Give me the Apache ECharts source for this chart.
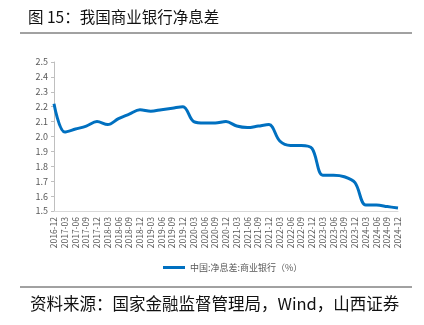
<!DOCTYPE html>
<html>
<head>
<meta charset="utf-8">
<script src="https://cdn.jsdelivr.net/npm/echarts@6/dist/echarts.min.js"></script>
<style>
  html, body { margin: 0; padding: 0; background: #fff; }
  #chart { width: 424px; height: 325px; }
</style>
</head>
<body>
<div id="chart"></div>
<script>
// Quarterly net interest margin of commercial banks, %
const quarters = [
  '2016-12','2017-03','2017-06','2017-09','2017-12','2018-03','2018-06','2018-09','2018-12',
  '2019-03','2019-06','2019-09','2019-12','2020-03','2020-06','2020-09','2020-12',
  '2021-03','2021-06','2021-09','2021-12','2022-03','2022-06','2022-09','2022-12',
  '2023-03','2023-06','2023-09','2023-12','2024-03','2024-06','2024-09','2024-12'
];
const nim = [
  2.22, 2.03, 2.05, 2.07, 2.10, 2.08, 2.12, 2.15, 2.18,
  2.17, 2.18, 2.19, 2.20, 2.10, 2.09, 2.09, 2.10,
  2.07, 2.06, 2.07, 2.08, 1.97, 1.94, 1.94, 1.92,
  1.74, 1.74, 1.73, 1.69, 1.54, 1.54, 1.53, 1.52
];
const yTicks = { min: 1.5, max: 2.5, step: 0.1 };
const seriesName = '中国:净息差:商业银行（%）';
const titleText = '图 15：我国商业银行净息差';
const sourceText = '资料来源：国家金融监督管理局，Wind，山西证券';

const chart = echarts.init(document.getElementById('chart'));
const cjk = '"Noto Sans CJK SC", "Noto Sans", sans-serif';

chart.setOption({
  backgroundColor: '#fff',
  animation: false,
  textStyle: { fontFamily: cjk },
  graphic: [
    { type: 'text', left: 28, top: 9, style: { text: titleText, font: '15.5px ' + cjk, fill: '#111' } },
    { type: 'line', shape: { x1: 20, y1: 33, x2: 412, y2: 33 }, style: { stroke: '#444', lineWidth: 1 } },
    { type: 'line', shape: { x1: 20, y1: 287, x2: 412, y2: 287 }, style: { stroke: '#444', lineWidth: 1 } },
    { type: 'text', left: 30, top: 295, style: { text: sourceText, font: '16.5px ' + cjk, fill: '#111' } }
  ],
  grid: { left: 54, right: 26, top: 62, bottom: 114 },
  legend: {
    data: [seriesName],
    left: 158, top: 258,
    itemWidth: 22, itemHeight: 3, itemGap: 4,
    icon: 'rect',
    textStyle: { fontSize: 9, color: '#595959' }
  },
  xAxis: {
    type: 'category',
    data: quarters,
    boundaryGap: false,
    axisLine: { lineStyle: { color: '#d9d9d9' } },
    axisTick: { show: false },
    axisLabel: { rotate: 90, fontSize: 8.5, color: '#595959', interval: 0, margin: 6 }
  },
  yAxis: {
    type: 'value',
    min: yTicks.min, max: yTicks.max, interval: yTicks.step,
    axisLine: { show: true, lineStyle: { color: '#bfbfbf' } },
    axisTick: { show: true, length: 3, lineStyle: { color: '#bfbfbf' } },
    splitLine: { show: false },
    axisLabel: { fontSize: 9, color: '#595959', margin: 6, formatter: v => v.toFixed(1) }
  },
  series: [{
    name: seriesName,
    type: 'line',
    data: nim,
    smooth: 0.35,
    symbol: 'none',
    lineStyle: { color: '#0070C0', width: 3 },
    itemStyle: { color: '#0070C0' }
  }]
});
</script>
</body>
</html>
